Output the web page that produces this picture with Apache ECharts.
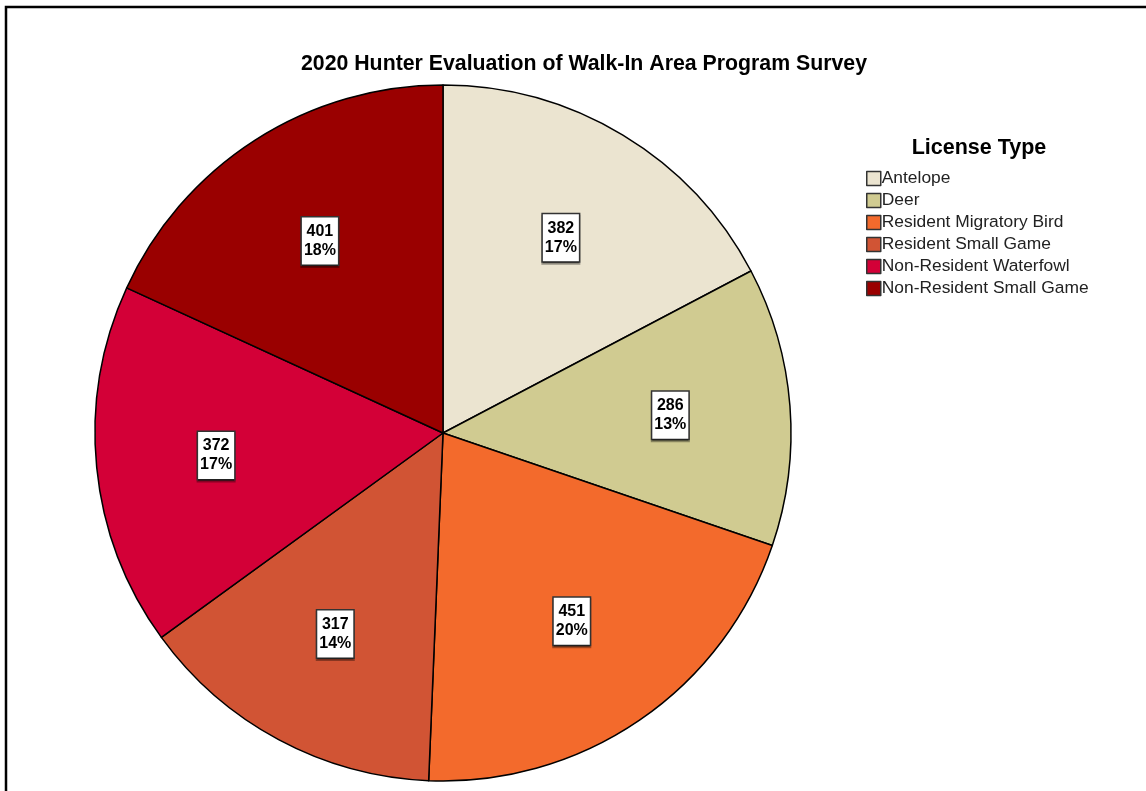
<!DOCTYPE html>
<html><head><meta charset="utf-8">
<script src="https://cdn.jsdelivr.net/npm/echarts@6/dist/echarts.min.js"></script>
<style>html,body{margin:0;padding:0;background:#fff}#c{width:1146px;height:791px}</style>
</head><body><div id="c"></div>
<script>
const categories = ['Antelope','Deer','Resident Migratory Bird','Resident Small Game','Non-Resident Waterfowl','Non-Resident Small Game'];
const values = [382, 286, 451, 317, 372, 401];
const colors = ['#EBE4D0','#D0CB91','#F36A2C','#D15434','#D30037','#9A0000'];
const total = values.reduce((a,b)=>a+b,0);
const data = categories.map((n,i)=>({name:n, value:values[i], itemStyle:{color:colors[i]}}));
const labelData = categories.map((n,i)=>({name:n, value:values[i]}));
const chart = echarts.init(document.getElementById('c'));
const font = 'Arial, "Liberation Sans", sans-serif';
chart.setOption({
  animation:false,
  title:[
    {text:'2020 Hunter Evaluation of Walk-In Area Program Survey', left:579, top:49, textAlign:'center',
     textStyle:{fontFamily:font, fontSize:21.3, fontWeight:'bold', color:'#000'}},
    {text:'License Type', left:974, top:132, textAlign:'center',
     textStyle:{fontFamily:font, fontSize:21.5, fontWeight:'bold', color:'#000'}}
  ],
  graphic:[{type:'rect', shape:{x:6, y:7, width:1300, height:900}, style:{fill:'none', stroke:'#000', lineWidth:2.5}, silent:true}],
  legend:{orient:'vertical', left:861, top:165, icon:'rect', itemWidth:14, itemHeight:14, itemGap:5,
    itemStyle:{borderColor:'#333', borderWidth:1.5},
    textStyle:{fontFamily:font, fontSize:17.4, lineHeight:17, color:'#222', padding:[0,0,0,-4]}},
  series:[
    {type:'pie', center:[443,433], radius:[0,348], startAngle:90, clockwise:true, data:data,
     itemStyle:{borderColor:'#000', borderWidth:1.5}, label:{show:false}, labelLine:{show:false}, emphasis:{disabled:true}},
    {type:'pie', center:[443,433], radius:[102,348], startAngle:90, clockwise:true, data:labelData, legendHoverLink:false,
     itemStyle:{color:'rgba(0,0,0,0)', borderWidth:0}, emphasis:{disabled:true}, silent:true, tooltip:{show:false},
     label:{show:true, position:'inside', formatter:p=>p.value+'\n'+Math.round(p.value/total*100)+'%',
       fontFamily:font, fontSize:16, fontWeight:'bold', color:'#000', lineHeight:19, backgroundColor:'#fff',
       borderColor:'#333', borderWidth:1.5, padding:[5,2,4,2], shadowColor:'rgba(0,0,0,0.35)', shadowOffsetY:2, shadowBlur:0},
     labelLine:{show:false}}
  ]
});
</script></body></html>
